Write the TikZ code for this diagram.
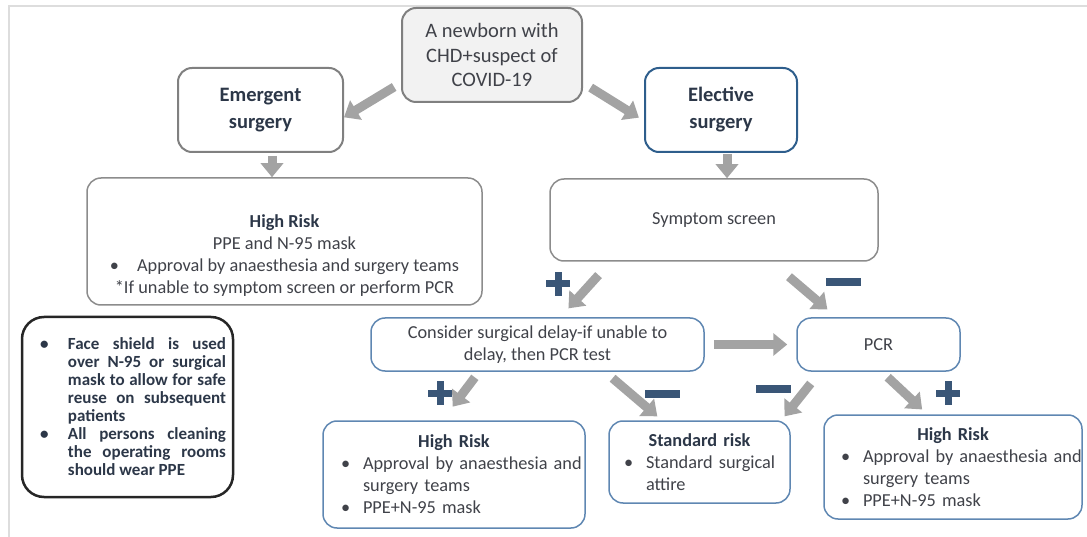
\documentclass[tikz,border=0pt]{standalone}
\usepackage{fontspec}
\setmainfont{Carlito}
\usetikzlibrary{arrows.meta}

\definecolor{txtgray}{HTML}{404249}
\definecolor{headblue}{HTML}{2C3748}
\definecolor{boxgray}{HTML}{8C8C8C}
\definecolor{topfill}{HTML}{F2F2F2}
\definecolor{elecblue}{HTML}{2E5E8C}
\definecolor{stepblue}{HTML}{5F87B2}
\definecolor{signblue}{HTML}{3A5677}
\definecolor{arrowgray}{HTML}{A3A3A3}
\definecolor{framegray}{HTML}{DDDDDD}

% bullet line with hanging indent
\newcommand{\bitem}[2][18pt]{\par\leftskip=#1\hangindent=22pt\hangafter=1\noindent\makebox[22pt][l]{•}#2\par}

\begin{document}
\begin{tikzpicture}[x=1pt, y=-1pt,
    box/.style={draw=boxgray, line width=1.5pt, rounded corners=14pt, inner sep=0pt,
      align=center, text=txtgray, font=\fontsize{18.3}{22}\selectfont},
    headbox/.style={box, draw=gray, line width=2pt, text=headblue,
      font=\bfseries\fontsize{20.5}{27}\selectfont},
    bluebox/.style={box, draw=stepblue},
    listbox/.style={bluebox, align=left},
    blockarrow/.style={draw=arrowgray, line width=9pt, -{Triangle[length=14pt,width=22pt]}},
    possign/.pic={\fill[signblue] (-12,-3.5) rectangle (12,3.5);
      \fill[signblue] (-3.5,-12) rectangle (3.5,12);},
    negsign/.pic={\fill[signblue] (-17.5,-4) rectangle (17.5,4);}]
  \useasboundingbox (0,0) rectangle (1087,537);
  \draw[framegray, line width=2pt] (9,537) -- (9,6) -- (1087,6);

  % top row
  \node[box, fill=topfill, draw=gray, line width=2pt, minimum width=180pt, minimum height=94pt,
        font=\fontsize{20.5}{24.5}\selectfont] (newborn) at (492,55)
        {A newborn with\\CHD+suspect of\\COVID-19};
  \node[headbox, minimum width=165pt, minimum height=84pt] (emer) at (260.5,110) {Emergent\\surgery};
  \node[headbox, draw=elecblue, minimum width=152pt, minimum height=84pt] (elec) at (721,110) {Elective\\surgery};

  % second row
  \node[box, minimum width=395pt, minimum height=127pt] (hrA) at (284.5,241.5) {};
  \node[text=txtgray, align=center, font=\fontsize{18.3}{22}\selectfont] (hrAtext) at ([yshift=-14pt]hrA.center)
        {\textcolor{headblue}{\bfseries High Risk}\\PPE and N-95 mask\\
         •\hspace{18pt}Approval by anaesthesia and surgery teams\\
         *If unable to symptom screen or perform PCR};
  \node[box, minimum width=328pt, minimum height=82pt] (symp) at (714,220) {Symptom screen};

  % side note
  \node[draw=black!85, line width=2.5pt, rounded corners=22pt, minimum width=211pt, minimum height=180pt,
        inner xsep=7pt, inner ysep=0pt, text width=197pt, align=justify, text=headblue,
        font=\bfseries\fontsize{17}{18}\selectfont] (face) at (127.5,407)
        {\hyphenpenalty=10000\exhyphenpenalty=10000
         \leftskip=11pt\hangindent=28pt\hangafter=1\noindent\makebox[28pt][l]{•}Face shield is used
         over N-95 or surgical mask to allow for safe reuse on subsequent patients\par
         \hangindent=28pt\hangafter=1\noindent\makebox[28pt][l]{•}All persons cleaning the
         operating rooms should wear PPE\par};

  % third row
  \node[bluebox, minimum width=333pt, minimum height=53pt] (cons) at (537.5,344.5)
        {Consider surgical delay-if unable to\\delay, then PCR test};
  \node[bluebox, minimum width=163pt, minimum height=53pt] (pcr) at (878.5,344.5) {PCR};

  % bottom row
  \node[listbox, minimum width=262pt, text width=262pt, minimum height=107pt] (hrB) at (454,474.5)
        {{\centering\bfseries\color{headblue}High Risk\par}
         \bitem{Approval by anaesthesia and surgery teams}
         \bitem{PPE+N-95 mask}};
  \node[listbox, minimum width=181pt, text width=181pt, minimum height=82pt] (std) at (699.5,462)
        {{\centering\bfseries\color{headblue}Standard risk\par}
         \bitem[15pt]{Standard surgical attire}};
  \node[listbox, minimum width=258pt, text width=258pt, minimum height=104pt] (hrC) at (953,467)
        {{\centering\bfseries\color{headblue}High Risk\par}
         \bitem[17pt]{Approval by anaesthesia and surgery teams}
         \bitem[17pt]{PPE+N-95 mask}};

  % arrows
  \coordinate (emerdrop) at ([xshift=11.5pt]emer.south);
  \coordinate (elecdrop) at ([xshift=6pt]elec.south);
  \draw[blockarrow, shorten <=8pt] (newborn.197) -- (emer.-5);
  \draw[blockarrow, shorten <=9pt, shorten >=6pt] (newborn.-17) -- (elec.188);
  \draw[blockarrow, shorten <=3pt] (emerdrop) -- (emerdrop |- hrA.north);
  \draw[blockarrow, shorten <=1pt] (elecdrop) -- (elecdrop |- symp.north);
  \draw[blockarrow, shorten <=18pt, shorten >=12pt] (symp.202) -- (cons.50);
  \draw[blockarrow, shorten <=23pt, shorten >=12pt] (symp.-36) -- (pcr.147);
  \draw[blockarrow, shorten <=9pt, shorten >=9pt] (cons.east) -- (pcr.west);
  \draw[blockarrow, shorten <=7pt, shorten >=17pt] (cons.205) -- (hrB.102);
  \draw[blockarrow, shorten <=10pt, shorten >=6pt] (cons.-22) -- (std.132);
  \draw[blockarrow, shorten <=15pt, shorten >=5pt] (pcr.205) -- (std.27);
  \draw[blockarrow, shorten <=8pt, shorten >=7pt] (pcr.-83) -- (hrC.116);

  % signs
  \pic at (558,284) {possign};
  \pic at (843,282) {negsign};
  \pic at (440,393) {possign};
  \pic at (662,394) {negsign};
  \pic at (773,389) {negsign};
  \pic at (948,393) {possign};
\end{tikzpicture}
\end{document}
